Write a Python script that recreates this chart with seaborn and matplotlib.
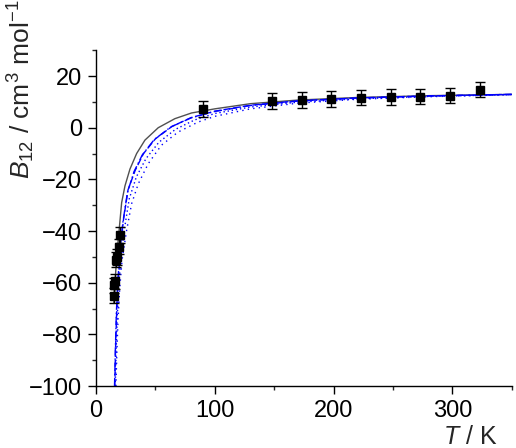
import numpy as np
import pandas as pd
import seaborn as sns
import matplotlib.pyplot as plt
from matplotlib.ticker import MultipleLocator

# measured points
T_exp = [15, 15.5, 16, 17, 17.5, 19, 20, 90, 148, 173, 198, 223, 248, 273, 298, 323]
B_exp = [-65, -61, -59.5, -51, -50, -46, -41.5, 7.3, 10.3, 10.8, 11.2, 11.6, 11.8, 12.0, 12.4, 14.7]
B_err = [3, 3, 3, 3, 3, 3, 3, 3, 3, 3, 3, 3, 3, 3, 3, 3]

# model curves
T_solid = [15, 16, 17, 18, 19, 20.2, 21.6, 24.4, 28.6, 34.2, 41.2, 52.4, 66.4, 80.4, 100, 130, 170, 220, 280, 350]
B_solid = [-68, -60, -53, -47, -42, -36, -29, -22.5, -16, -10, -4.8, 0, 3.5, 5.7, 7.3, 9.3, 10.7, 11.7, 12.4, 12.9]

T_dash = [15.8, 16.5, 17.5, 19, 21, 23, 27, 33, 40, 50, 64, 80, 100, 130, 170, 220, 280, 350]
B_dash = [-100, -85, -70, -57, -45, -36, -24, -16.5, -10, -4.3, 0.5, 3.9, 6.4, 8.7, 10.4, 11.5, 12.3, 12.9]

T_dashdot = [15.6, 16.3, 17.2, 18.6, 20.5, 22.5, 26.5, 32, 39, 49, 63, 80, 100, 130, 170, 220, 280, 350]
B_dashdot = [-100, -86, -71, -58, -46, -37, -25, -17, -10.5, -4.6, 0.3, 3.8, 6.3, 8.6, 10.3, 11.5, 12.3, 12.9]

T_dot1 = [16.2, 17, 18, 19.5, 21.5, 24, 28, 34, 42, 53, 67, 83, 100, 130, 170, 220, 280, 350]
B_dot1 = [-100, -86, -72, -59, -48, -39, -27.5, -19, -12, -5.6, -0.6, 3.0, 5.5, 8.0, 9.9, 11.2, 12.1, 12.8]

T_dot2 = [16.8, 17.5, 18.5, 20, 22, 25.8, 30, 35.6, 44, 55, 69, 86, 100, 130, 170, 220, 280, 350]
B_dot2 = [-100, -88, -75, -62, -51, -39.7, -29.4, -21.7, -13.9, -6.8, -1.7, 2.2, 4.4, 7.3, 9.5, 11.0, 12.0, 12.8]

sns.set_style("ticks")
plt.rcParams['font.family'] = ['Liberation Sans', 'DejaVu Sans']
plt.rcParams['mathtext.fontset'] = 'custom'
plt.rcParams['mathtext.rm'] = 'Liberation Sans'
plt.rcParams['mathtext.it'] = 'Liberation Sans:italic'

fig = plt.figure(figsize=(5.16, 4.48), dpi=100)
ax = fig.add_axes([0.186, 0.138, 0.806, 0.750])

sns.lineplot(x=T_solid, y=B_solid, ax=ax, color='#505050', lw=1.0, sort=False)
sns.lineplot(x=T_dash, y=B_dash, ax=ax, color='#0000ff', lw=1.0, sort=False, linestyle=(0, (5, 2)))
sns.lineplot(x=T_dashdot, y=B_dashdot, ax=ax, color='#0000ff', lw=1.0, sort=False, linestyle=(0, (6, 2, 1, 2)))
sns.lineplot(x=T_dot1, y=B_dot1, ax=ax, color='#0000ff', lw=1.0, sort=False, linestyle=(0, (1, 2)))
sns.lineplot(x=T_dot2, y=B_dot2, ax=ax, color='#0000ff', lw=1.0, sort=False, linestyle=(0, (1, 3)))

ax.errorbar(T_exp, B_exp, yerr=B_err, fmt='s', color='black', ms=6,
            ecolor='black', elinewidth=1, capsize=3.5, capthick=1, zorder=5)

ax.set_xlim(0, 350)
ax.set_ylim(-100, 30)
ax.set_xticks([0, 100, 200, 300])
ax.set_yticks([-100, -80, -60, -40, -20, 0, 20])
ax.xaxis.set_minor_locator(MultipleLocator(50))
ax.yaxis.set_minor_locator(MultipleLocator(10))
ax.set_yticklabels(['\u2212100', '\u221280', '\u221260', '\u221240', '\u221220', '0', '20'])
ax.tick_params(which='major', direction='out', length=6, width=1, labelsize=17, colors='black', pad=4)
ax.tick_params(which='minor', direction='out', length=3, width=1)
for s in ['left', 'bottom']:
    ax.spines[s].set_linewidth(1)
    ax.spines[s].set_color('black')
sns.despine(ax=ax)

ax.set_xlabel('$T$ / K', fontsize=18)
ax.xaxis.set_label_coords(0.9, -0.115)
ax.set_ylabel('$B_{12}$ / cm$^3$ mol$^{-1}$', fontsize=19)
ax.yaxis.set_label_coords(-0.142, 0.885)

fig.savefig('out.png', dpi=100)
